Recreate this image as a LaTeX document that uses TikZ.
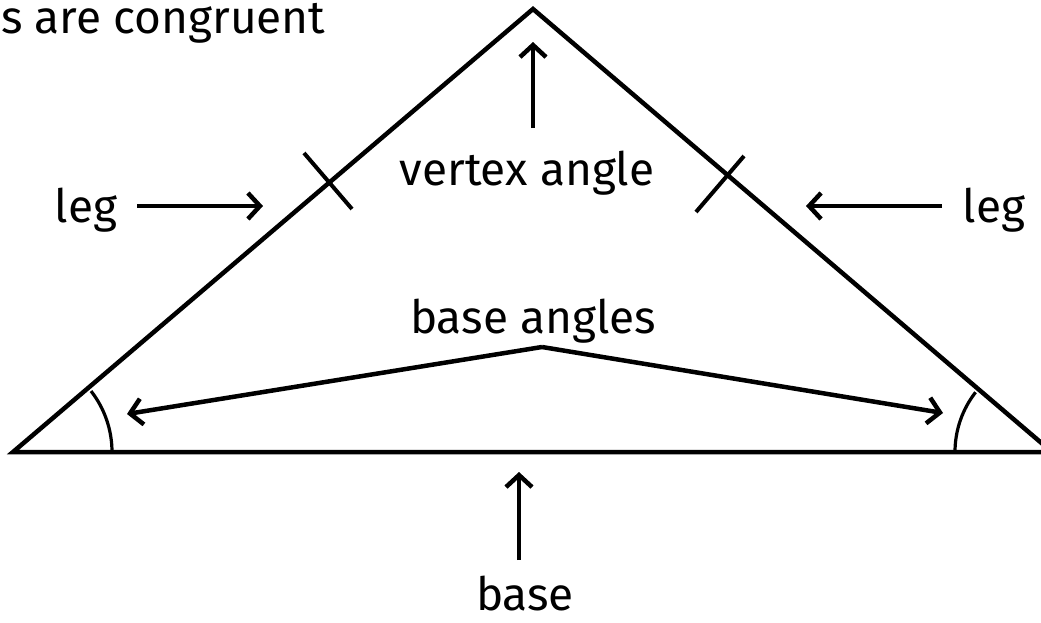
\documentclass[tikz,border=0pt]{standalone}
\usepackage{fontspec}
\setmainfont{Fira Sans}
\usetikzlibrary{arrows.meta}
\begin{document}
\begin{tikzpicture}[x=1pt,y=-1pt,
  txt/.style={inner sep=0pt,font=\fontsize{46}{50}\selectfont},
  ln/.style={line width=4.5pt},
  arr/.style={line width=4.5pt,-{Straight Barb[length=12pt,width=26pt,line width=4.5pt]}},
  tick/.style={line width=4pt},
  angarc/.style={line width=3.2pt}]
\useasboundingbox (0,0) rectangle (1041,622);
\clip (0,0) rectangle (1041,622);
% triangle
\coordinate (L) at (13,452);
\coordinate (T) at (533,9);
\coordinate (R) at (1052,452);
\draw[ln, line join=miter] (L) -- (T) -- (R) -- cycle;
% tick marks
\draw[tick] (328,181) ++(-24,-28) -- ++(48,56);
\draw[tick] (720,184) ++(24,-28) -- ++(-48,56);
% angle arcs
\draw[angarc] (L) ++(-38:99) arc[start angle=-38,end angle=0,radius=99];
\draw[angarc] (R) ++(218:97) arc[start angle=218,end angle=180,radius=97];
% texts
\node[txt,anchor=base west] (cong) at (1,33) {s are congruent};
\node[txt,anchor=base] (va) at (527,185) {vertex angle};
\node[txt,anchor=base] (legl) at (86,222) {leg};
\node[txt,anchor=base] (legr) at (994,222) {leg};
\node[txt,anchor=base] (ba) at (533,333) {base angles};
\node[txt,anchor=base] (b) at (525,610) {base};
% connectors
\coordinate (vaTip) at (533,42);
\coordinate (vaTail) at (533,128);
\draw[arr] (vaTail) -- (vaTip);
\coordinate (llTail) at (137,206);
\coordinate (llTip) at (263,206);
\draw[arr] (llTail) -- (llTip);
\coordinate (lrTail) at (942,206);
\coordinate (lrTip) at (806,206);
\draw[arr] (lrTail) -- (lrTip);
\coordinate (baHub) at (542,347);
\coordinate (baL) at (127,414);
\coordinate (baR) at (943,413);
\draw[arr] (baHub) -- (baL);
\draw[arr] (baHub) -- (baR);
\coordinate (bTail) at (519,560);
\coordinate (bTip) at (519,472);
\draw[arr] (bTail) -- (bTip);
\end{tikzpicture}
\end{document}
